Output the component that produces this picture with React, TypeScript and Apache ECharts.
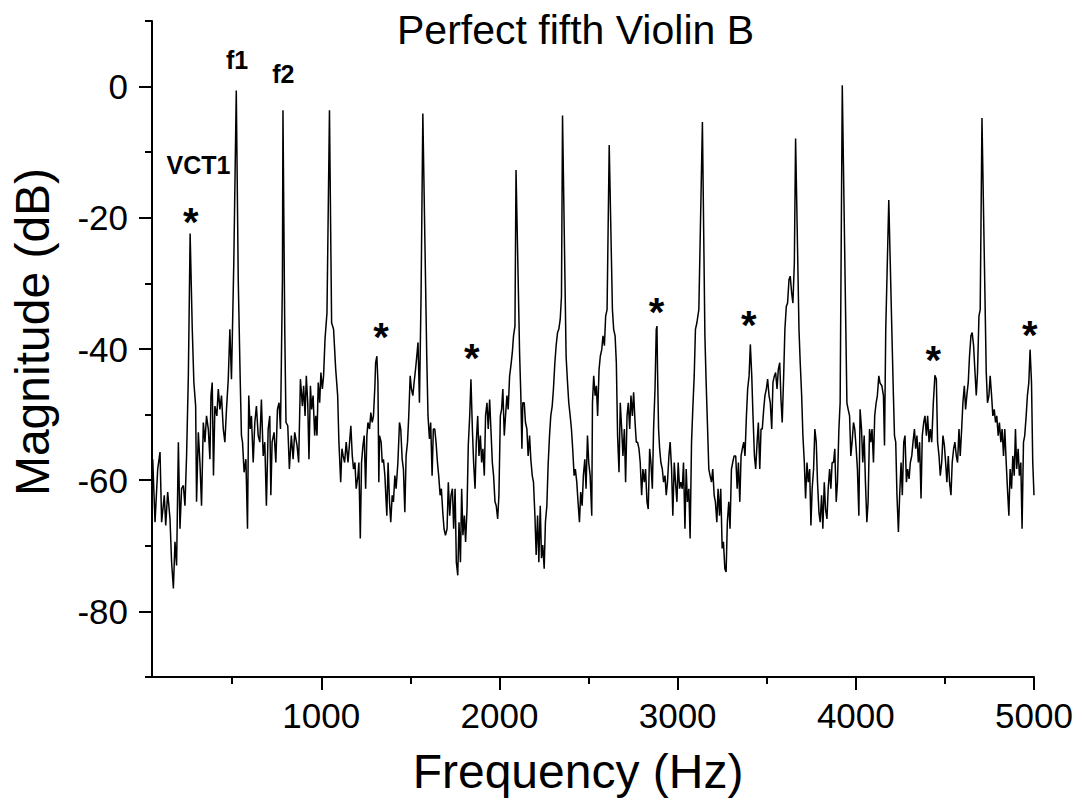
import React, { useEffect, useRef } from "react";
import * as echarts from "echarts";

// Spectrum trace: [frequency (Hz), magnitude (dB)]
const spectrumPoints: [number, number][] = [
  [54, -56.8], [67, -66.4], [82, -58.3], [95, -55.7], [104, -66.4], [119, -62.3], [127, -66.9],
  [138, -61.8], [151, -65.9], [160, -72.5], [170, -76.5], [179, -69.4], [188, -73.0], [198, -54.2],
  [207, -67.4], [216, -61.3], [226, -60.8], [235, -63.9], [244, -56.3], [254, -44.1], [264, -22.4],
  [276, -37.0], [285, -45.1], [295, -48.7], [300, -63.3], [310, -52.7], [319, -57.3], [328, -63.9],
  [338, -51.2], [347, -54.2], [356, -50.2], [366, -52.2], [375, -56.8], [381, -47.1], [388, -45.1],
  [395, -59.3], [403, -48.7], [414, -50.2], [422, -46.1], [431, -49.2], [440, -47.1], [450, -52.2],
  [459, -54.2], [468, -49.2], [478, -44.6], [487, -37.0], [496, -44.6], [502, -36.5], [509, -26.9],
  [523, -0.6], [534, -29.4], [545, -44.6], [552, -53.2], [558, -54.2], [567, -58.8], [577, -56.8],
  [586, -67.4], [593, -47.1], [601, -52.2], [608, -50.2], [618, -57.3], [627, -51.2], [636, -48.7],
  [646, -53.2], [655, -54.2], [664, -47.7], [674, -56.3], [683, -54.2], [692, -63.9], [702, -52.2],
  [711, -50.2], [717, -62.3], [724, -54.2], [735, -52.7], [745, -57.3], [754, -49.2], [763, -48.2],
  [771, -52.2], [776, -42.1], [782, -29.4], [785, -3.6], [795, -37.0], [802, -51.2], [812, -51.7],
  [821, -58.3], [832, -53.2], [842, -56.8], [851, -52.7], [864, -54.7], [873, -57.3], [883, -44.6],
  [894, -48.7], [901, -45.6], [909, -50.2], [916, -44.1], [924, -48.2], [931, -56.8], [939, -45.6],
  [946, -49.2], [954, -47.1], [963, -53.2], [969, -50.2], [976, -53.2], [983, -45.1], [991, -48.2],
  [998, -43.6], [1006, -46.1], [1013, -44.1], [1021, -38.5], [1032, -34.5], [1046, -3.6], [1058, -36.0],
  [1069, -37.0], [1081, -43.1], [1092, -47.1], [1099, -54.2], [1109, -60.3], [1116, -55.2], [1123, -56.3],
  [1131, -57.3], [1140, -54.2], [1150, -57.3], [1159, -54.2], [1166, -51.7], [1174, -56.3], [1181, -58.3],
  [1189, -57.3], [1196, -61.3], [1206, -59.3], [1211, -57.3], [1219, -68.9], [1226, -57.3], [1234, -54.7],
  [1241, -53.2], [1249, -61.3], [1256, -53.2], [1262, -51.2], [1271, -52.2], [1278, -49.7], [1286, -51.2],
  [1293, -50.2], [1301, -45.6], [1305, -42.1], [1312, -41.1], [1318, -45.1], [1323, -60.3], [1327, -53.2],
  [1336, -54.2], [1342, -57.3], [1349, -56.8], [1357, -59.3], [1364, -63.3], [1368, -65.4], [1375, -57.3],
  [1383, -63.3], [1390, -66.4], [1398, -62.3], [1405, -63.3], [1413, -59.3], [1420, -61.3], [1430, -57.3],
  [1439, -51.2], [1446, -52.2], [1454, -56.8], [1461, -58.3], [1469, -64.9], [1476, -56.3], [1484, -54.2],
  [1491, -50.2], [1499, -44.1], [1506, -46.1], [1514, -47.1], [1521, -45.1], [1529, -43.1], [1536, -41.1],
  [1543, -39.0], [1551, -48.2], [1560, -32.0], [1570, -4.1], [1592, -41.1], [1599, -50.2], [1607, -53.7],
  [1614, -51.2], [1622, -59.3], [1629, -52.2], [1637, -52.2], [1644, -54.2], [1652, -57.3], [1659, -59.3],
  [1667, -62.3], [1674, -61.3], [1682, -64.9], [1689, -67.4], [1697, -68.4], [1706, -67.4], [1713, -60.3],
  [1721, -65.4], [1728, -62.3], [1736, -61.3], [1743, -67.4], [1751, -61.3], [1758, -72.5], [1766, -74.5],
  [1773, -66.4], [1781, -72.5], [1788, -61.3], [1795, -68.4], [1803, -65.4], [1810, -69.4], [1818, -64.4],
  [1825, -54.7], [1833, -50.2], [1840, -44.6], [1848, -52.2], [1855, -57.3], [1863, -61.3], [1870, -54.2],
  [1878, -50.2], [1885, -56.3], [1893, -53.2], [1900, -57.3], [1907, -55.2], [1915, -59.3], [1922, -50.2],
  [1930, -48.2], [1937, -52.2], [1945, -47.7], [1952, -52.2], [1960, -57.3], [1967, -59.3], [1975, -63.3],
  [1982, -63.9], [1990, -65.9], [1997, -62.3], [2005, -50.2], [2012, -49.2], [2019, -46.1], [2027, -53.2],
  [2034, -50.2], [2042, -47.1], [2049, -49.2], [2057, -44.1], [2064, -42.6], [2072, -40.6], [2079, -38.0],
  [2087, -36.5], [2093, -12.7], [2113, -40.6], [2120, -47.1], [2126, -55.2], [2131, -48.2], [2139, -48.2],
  [2146, -51.2], [2154, -52.2], [2161, -56.3], [2169, -53.2], [2176, -56.8], [2184, -59.3], [2191, -60.3],
  [2199, -65.4], [2206, -71.4], [2214, -65.4], [2221, -72.5], [2229, -63.9], [2236, -71.9], [2243, -69.9],
  [2251, -73.5], [2258, -66.4], [2266, -63.9], [2273, -57.8], [2281, -53.2], [2288, -50.2], [2296, -48.7],
  [2303, -46.1], [2311, -42.1], [2318, -39.5], [2326, -37.5], [2333, -37.0], [2341, -35.5], [2348, -32.0],
  [2354, -4.4], [2374, -41.1], [2382, -45.1], [2389, -48.2], [2397, -50.2], [2404, -52.2], [2411, -55.2],
  [2419, -59.3], [2426, -58.3], [2434, -60.3], [2441, -63.3], [2449, -66.4], [2456, -61.8], [2464, -63.9],
  [2471, -59.3], [2479, -56.8], [2486, -61.3], [2494, -53.2], [2501, -57.3], [2509, -59.3], [2518, -65.4],
  [2522, -48.2], [2529, -44.1], [2537, -47.1], [2544, -45.6], [2551, -50.2], [2559, -43.1], [2566, -41.1],
  [2574, -40.1], [2581, -38.0], [2589, -39.5], [2596, -35.0], [2604, -34.0], [2616, -8.9], [2634, -34.0],
  [2641, -37.0], [2649, -38.0], [2656, -42.1], [2663, -53.2], [2671, -58.8], [2678, -48.2], [2686, -52.2],
  [2693, -56.3], [2701, -52.2], [2708, -60.3], [2716, -50.2], [2723, -48.2], [2731, -52.2], [2738, -47.1],
  [2746, -50.2], [2753, -46.6], [2761, -51.2], [2768, -54.2], [2775, -54.2], [2783, -55.2], [2790, -57.3],
  [2798, -62.3], [2805, -58.3], [2813, -60.3], [2820, -58.3], [2828, -63.3], [2835, -64.4], [2843, -55.2],
  [2850, -57.3], [2858, -61.3], [2865, -52.2], [2873, -46.1], [2880, -37.0], [2884, -36.5], [2887, -43.1],
  [2893, -52.2], [2899, -55.2], [2906, -57.3], [2914, -58.3], [2921, -60.3], [2929, -59.3], [2936, -62.3],
  [2943, -60.3], [2951, -56.3], [2958, -54.2], [2966, -58.3], [2973, -65.4], [2981, -57.3], [2988, -60.3],
  [2996, -63.3], [3003, -57.3], [3011, -61.3], [3018, -60.3], [3026, -61.3], [3033, -57.3], [3041, -67.4],
  [3048, -58.3], [3055, -63.3], [3063, -61.3], [3070, -68.9], [3078, -54.2], [3085, -49.2], [3093, -44.1],
  [3100, -37.0], [3108, -36.0], [3119, -34.0], [3139, -5.4], [3153, -38.0], [3160, -45.1], [3167, -51.2],
  [3175, -58.3], [3182, -59.3], [3190, -60.3], [3197, -58.3], [3205, -62.3], [3212, -63.3], [3220, -66.4],
  [3227, -61.3], [3235, -65.4], [3242, -61.3], [3250, -70.4], [3257, -69.4], [3265, -73.5], [3272, -74.0],
  [3279, -66.4], [3287, -63.3], [3294, -67.4], [3302, -58.3], [3309, -57.3], [3317, -56.3], [3326, -56.3],
  [3334, -61.3], [3341, -57.3], [3349, -63.3], [3356, -56.3], [3363, -55.2], [3371, -54.2], [3378, -56.3],
  [3386, -50.2], [3393, -46.1], [3401, -44.1], [3408, -39.3], [3416, -44.1], [3423, -50.2], [3431, -56.3],
  [3438, -58.3], [3446, -54.2], [3453, -51.2], [3461, -58.3], [3468, -52.2], [3475, -52.2], [3483, -49.2],
  [3490, -47.1], [3498, -46.1], [3505, -44.6], [3513, -47.1], [3520, -48.2], [3528, -52.2], [3535, -45.1],
  [3543, -44.1], [3550, -43.6], [3558, -46.1], [3565, -43.1], [3573, -42.1], [3580, -47.7], [3587, -51.2],
  [3595, -44.1], [3602, -37.0], [3610, -33.5], [3617, -33.0], [3625, -29.4], [3632, -28.9], [3640, -31.5],
  [3647, -33.0], [3655, -26.9], [3662, -7.9], [3681, -37.0], [3688, -42.1], [3696, -47.1], [3703, -53.2],
  [3711, -57.3], [3718, -62.8], [3726, -57.3], [3733, -60.3], [3741, -58.3], [3748, -66.9], [3755, -61.3],
  [3763, -58.3], [3770, -52.2], [3778, -54.2], [3785, -60.3], [3793, -64.9], [3800, -66.4], [3808, -62.3],
  [3815, -67.4], [3823, -60.3], [3830, -64.4], [3838, -65.9], [3845, -61.3], [3853, -58.3], [3860, -61.3],
  [3867, -57.3], [3875, -57.3], [3882, -55.2], [3890, -63.3], [3897, -60.3], [3905, -52.2], [3912, -48.2],
  [3924, 0.2], [3950, -48.2], [3957, -49.2], [3965, -50.2], [3972, -56.3], [3979, -54.2], [3987, -51.2],
  [3994, -52.2], [4002, -55.2], [4009, -58.3], [4017, -65.4], [4024, -49.2], [4032, -52.2], [4039, -57.3],
  [4047, -53.2], [4054, -60.3], [4062, -66.4], [4069, -63.3], [4077, -52.2], [4084, -54.2], [4091, -52.2],
  [4099, -57.3], [4106, -50.2], [4114, -48.2], [4121, -47.1], [4129, -44.1], [4136, -45.2], [4146, -45.6],
  [4155, -47.1], [4161, -54.7], [4168, -37.0], [4185, -17.3], [4202, -37.0], [4211, -47.1], [4217, -53.2],
  [4224, -54.2], [4231, -62.3], [4239, -67.9], [4246, -62.3], [4254, -57.3], [4261, -62.3], [4269, -54.2],
  [4276, -53.2], [4284, -60.3], [4291, -58.3], [4299, -59.8], [4306, -57.3], [4314, -56.3], [4321, -54.2],
  [4329, -52.2], [4336, -55.2], [4343, -53.2], [4351, -57.3], [4358, -54.2], [4366, -62.8], [4373, -53.2],
  [4381, -51.2], [4388, -50.2], [4396, -53.2], [4403, -50.2], [4411, -54.2], [4418, -52.2], [4426, -54.2],
  [4435, -48.2], [4444, -44.0], [4452, -44.6], [4459, -54.2], [4467, -56.3], [4474, -59.3], [4482, -57.3],
  [4489, -53.2], [4497, -54.7], [4504, -57.3], [4511, -60.3], [4519, -56.3], [4526, -60.3], [4534, -62.3],
  [4541, -57.3], [4549, -55.2], [4556, -54.2], [4564, -56.3], [4571, -57.3], [4579, -52.2], [4586, -56.3],
  [4594, -52.2], [4601, -48.2], [4609, -45.6], [4616, -49.2], [4623, -47.1], [4631, -45.1], [4638, -41.1],
  [4646, -38.0], [4653, -37.5], [4661, -39.5], [4668, -43.1], [4676, -47.1], [4683, -43.6], [4691, -35.0],
  [4698, -34.0], [4708, -4.8], [4732, -43.6], [4739, -48.2], [4747, -47.1], [4754, -44.1], [4762, -47.1],
  [4769, -50.2], [4777, -49.2], [4784, -51.2], [4791, -50.2], [4799, -53.2], [4806, -51.2], [4814, -54.2],
  [4821, -52.2], [4829, -56.3], [4836, -52.2], [4844, -57.3], [4851, -61.3], [4859, -65.4], [4866, -58.3],
  [4874, -61.3], [4881, -56.3], [4889, -59.3], [4896, -52.2], [4903, -58.3], [4911, -55.2], [4918, -59.3],
  [4926, -57.3], [4933, -67.4], [4941, -54.2], [4948, -53.2], [4956, -50.2], [4963, -47.1], [4971, -45.1],
  [4978, -40.1], [4986, -45.1], [4993, -57.3], [5000, -62.3],
];

const xMajorTicks = [1000, 2000, 3000, 4000, 5000];
const xMinorTicks = [500, 1500, 2500, 3500, 4500];
const yMajorTicks = [-80, -60, -40, -20, 0];
const yMinorTicks = [-90, -70, -50, -30, -10, 10];

// Text annotations: label, frequency (Hz), magnitude (dB)
const noteLabels = ["VCT1", "f1", "f2"];
const noteFreqs = [311, 527, 787];
const noteDb = [-12.0, 4.0, 1.9];

// Asterisk markers above the sub-harmonic peaks
const starFreqs = [267, 1336, 1844, 2882, 3399, 4435, 4976];
const starDb = [-20.6, -38.1, -41.4, -34.3, -36.3, -41.7, -37.9];

const FONT = "'Liberation Sans', Arial, sans-serif";

export default function App() {
  const ref = useRef<HTMLDivElement>(null);

  useEffect(() => {
    if (!ref.current) return;
    const chart = echarts.init(ref.current, undefined, { renderer: "svg" });

    const axisLineStyle = { color: "#000", width: 2 };
    const plain = (v: number) => String(v);

    chart.setOption({
      animation: false,
      backgroundColor: "#fff",
      textStyle: { fontFamily: FONT, color: "#000" },
      title: {
        text: "Perfect fifth Violin B",
        left: 392,
        top: 4,
        textStyle: { fontSize: 41, fontWeight: "normal", color: "#000", fontFamily: FONT, lineHeight: 41 },
      },
      grid: { left: 151, right: 48, top: 21, bottom: 129, containLabel: false },
      xAxis: [
        {
          type: "value",
          min: 50,
          max: 5000,
          position: "bottom",
          axisLine: { show: true, onZero: false, lineStyle: axisLineStyle },
          axisTick: { show: true, customValues: xMajorTicks, length: 13, lineStyle: axisLineStyle },
          axisLabel: { customValues: xMajorTicks, formatter: plain, fontSize: 35, color: "#000", margin: 21, fontFamily: FONT },
          splitLine: { show: false },
          name: "Frequency (Hz)",
          nameLocation: "middle",
          nameGap: 70,
          nameTextStyle: { fontSize: 48, color: "#000", fontFamily: FONT, padding: [0, 30, 0, 0] },
        },
        {
          type: "value",
          min: 50,
          max: 5000,
          position: "bottom",
          axisLine: { show: false, onZero: false },
          axisTick: { show: true, customValues: xMinorTicks, length: 7, lineStyle: axisLineStyle },
          axisLabel: { show: false },
          splitLine: { show: false },
        },
      ],
      yAxis: [
        {
          type: "value",
          min: -90,
          max: 10,
          position: "left",
          axisLine: { show: true, onZero: false, lineStyle: axisLineStyle },
          axisTick: { show: true, customValues: yMajorTicks, length: 13, lineStyle: axisLineStyle },
          axisLabel: { customValues: yMajorTicks, formatter: plain, fontSize: 35, color: "#000", margin: 24, fontFamily: FONT },
          splitLine: { show: false },
          name: "Magnitude (dB)",
          nameLocation: "middle",
          nameGap: 96,
          nameTextStyle: { fontSize: 48, color: "#000", fontFamily: FONT, padding: [0, 0, 0, 34] },
        },
        {
          type: "value",
          min: -90,
          max: 10,
          position: "left",
          axisLine: { show: false, onZero: false },
          axisTick: { show: true, customValues: yMinorTicks, length: 7, lineStyle: axisLineStyle },
          axisLabel: { show: false },
          splitLine: { show: false },
        },
      ],
      series: [
        {
          type: "line",
          xAxisIndex: 0,
          yAxisIndex: 0,
          data: spectrumPoints,
          showSymbol: false,
          symbol: "none",
          lineStyle: { color: "#000", width: 1.5 },
          z: 3,
        },
        {
          type: "scatter",
          xAxisIndex: 0,
          yAxisIndex: 0,
          data: noteLabels.map((t, i) => [noteFreqs[i], noteDb[i], t]),
          symbolSize: 1,
          itemStyle: { color: "rgba(0,0,0,0)", opacity: 1 },
          label: {
            show: true,
            position: "inside",
            formatter: (p: any) => p.data[2],
            fontSize: 25,
            fontWeight: "bold",
            color: "#000",
            opacity: 1,
            fontFamily: FONT,
          },
          z: 4,
        },
        {
          type: "scatter",
          xAxisIndex: 0,
          yAxisIndex: 0,
          data: starFreqs.map((f, i) => [f, starDb[i]]),
          symbolSize: 1,
          itemStyle: { color: "rgba(0,0,0,0)", opacity: 1 },
          label: {
            show: true,
            position: "inside",
            formatter: "*",
            fontSize: 40,
            fontWeight: "bold",
            color: "#000",
            opacity: 1,
            fontFamily: FONT,
          },
          z: 4,
        },
      ],
    });

    return () => chart.dispose();
  }, []);

  return (
    <div
      ref={ref}
      style={{ position: "fixed", left: 0, top: 0, width: 1082, height: 806, background: "#fff" }}
    />
  );
}
